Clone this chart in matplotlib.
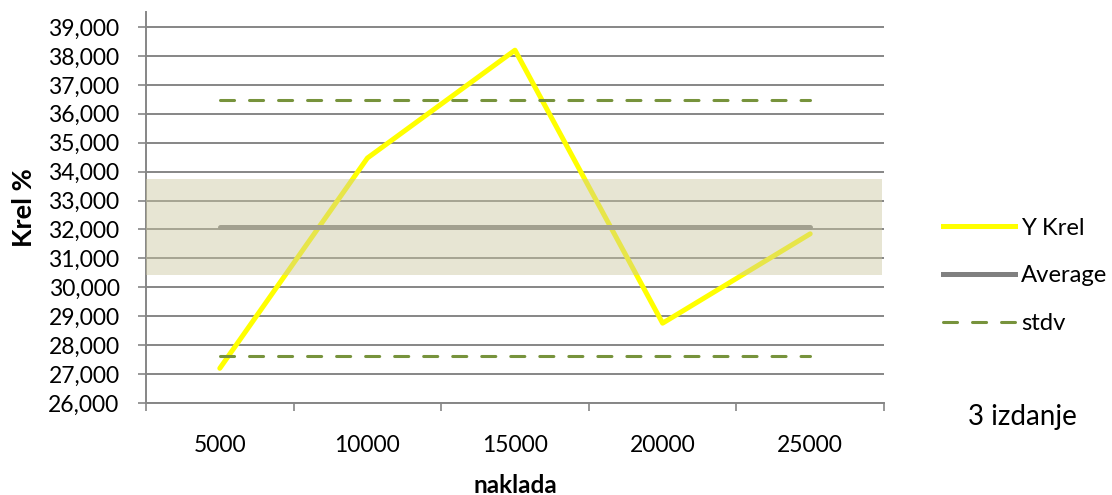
import numpy as np
import matplotlib
matplotlib.use('Agg')
import matplotlib.pyplot as plt
from matplotlib.lines import Line2D
from matplotlib.ticker import FixedLocator, FuncFormatter

plt.rcParams['font.family'] = ['Lato', 'DejaVu Sans']

# data
naklada = ['5000', '10000', '15000', '20000', '25000']
y_krel = [27.20, 34.47, 38.20, 28.76, 31.85]
average = [32.07, 32.07, 32.07, 32.07, 32.07]
stdv_hi = [36.48, 36.48, 36.48, 36.48, 36.48]
stdv_lo = [27.63, 27.63, 27.63, 27.63, 27.63]
band = (30.42, 33.74)
y_ticks = list(range(26, 40))

grid_c = '#868686'
yellow = '#FFFF00'
avg_c = '#808080'
std_c = '#77933C'

fig = plt.figure(figsize=(11.12, 4.95), dpi=100)
ax = fig.add_axes([146/1112, 1-403/495, (884-146)/1112, (403-12)/495])

x = np.arange(len(naklada))

ax.plot(x, y_krel, color=yellow, lw=3.6, solid_capstyle='round', solid_joinstyle='round', zorder=3)
ax.plot(x, average, color=avg_c, lw=3.6, solid_capstyle='round', zorder=3)
for s in (stdv_hi, stdv_lo):
    ax.plot(x, s, color=std_c, lw=2.2, dashes=(4.6, 4.9), dash_capstyle='round', zorder=3)

# shaded band on top
ax.axhspan(band[0], band[1], xmin=-0.003, xmax=0.997, color='#CCC8A1', alpha=0.46, lw=0, zorder=4)

ax.set_xlim(-0.5, len(naklada) - 0.5)
ax.set_ylim(26, 39.52)

ax.yaxis.set_major_locator(FixedLocator(y_ticks))
ax.yaxis.set_major_formatter(FuncFormatter(lambda v, p: '{:,.3f}'.format(v).replace('.', ',')))
ax.grid(axis='y', color=grid_c, lw=1.4, zorder=1)
ax.set_axisbelow(True)

ax.set_xticks(x)
ax.set_xticklabels(naklada)
ax.set_xticks(np.arange(-0.5, len(naklada)), minor=True)
ax.tick_params(axis='x', which='major', length=0, pad=23, labelsize=16.5)
ax.tick_params(axis='x', which='minor', length=6, width=1.2, color=grid_c, direction='out')
ax.tick_params(axis='y', length=6, width=1.2, color=grid_c, labelsize=16.5, pad=13)

for sp in ('top', 'right'):
    ax.spines[sp].set_visible(False)
for sp in ('left', 'bottom'):
    ax.spines[sp].set_color(grid_c)
    ax.spines[sp].set_linewidth(1.4)

ax.set_ylabel('Krel %', fontsize=19.5, fontweight='bold', labelpad=9)
ax.set_xlabel('naklada', fontsize=17.5, fontweight='bold', labelpad=13)

handles = [
    Line2D([], [], color=yellow, lw=3.6),
    Line2D([], [], color=avg_c, lw=3.6),
    Line2D([], [], color=std_c, lw=2.2, dashes=(4.6, 4.9), dash_capstyle='round'),
]
fig.legend(handles, ['Y Krel', 'Average', 'stdv'], loc='center left',
           bbox_to_anchor=(936/1112, 1-276/495), frameon=False, fontsize=17.2,
           handlelength=3.0, handletextpad=0.25, labelspacing=1.12,
           borderaxespad=0, borderpad=0.3)

fig.text(1022/1112, 1-417/495, '3 izdanje', ha='center', va='center', fontsize=20)

fig.savefig('out.png', dpi=100)
